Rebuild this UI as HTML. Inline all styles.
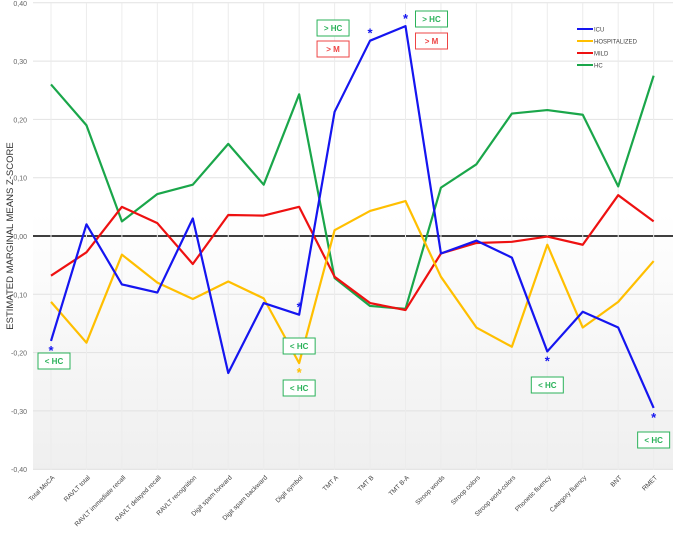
<!DOCTYPE html>
<html><head><meta charset="utf-8">
<style>
body{margin:0;background:#fff;font-family:"Liberation Sans",sans-serif;}
svg text{font-family:"Liberation Sans",sans-serif;}
</style></head><body>
<svg id="chart" width="676" height="542" xmlns="http://www.w3.org/2000/svg">
<defs><linearGradient id="bg" x1="0" y1="0" x2="0" y2="1"><stop offset="0" stop-color="#ffffff"/><stop offset="0.45" stop-color="#ffffff"/><stop offset="1" stop-color="#efefef"/></linearGradient></defs>
<rect x="33" y="3" width="640" height="467" fill="url(#bg)"/>
<g id="grid"></g><g id="series"></g><g id="labels"></g>
<text transform="translate(13,236) rotate(-90)" text-anchor="middle" font-size="9.5" fill="#333">ESTIMATED MARGINAL MEANS Z-SCORE</text>
</svg>
<script>
const categories=["Total MoCA","RAVLT total","RAVLT immediate recall","RAVLT delayed recall","RAVLT recognition","Digit spam forward","Digit spam backward","Digit symbol","TMT A","TMT B","TMT B-A","Stroop words","Stroop colors","Stroop word-colors","Phonetic fluency","Category fluency","BNT","RMET"];
const icu=[-0.18,0.02,-0.083,-0.097,0.03,-0.235,-0.115,-0.135,0.213,0.335,0.36,-0.03,-0.008,-0.037,-0.198,-0.13,-0.157,-0.295];
const hosp=[-0.113,-0.183,-0.032,-0.08,-0.108,-0.078,-0.107,-0.218,0.01,0.043,0.06,-0.07,-0.157,-0.19,-0.015,-0.157,-0.113,-0.043];
const mild=[-0.068,-0.028,0.05,0.022,-0.048,0.036,0.035,0.05,-0.07,-0.115,-0.127,-0.03,-0.012,-0.01,-0.001,-0.015,0.07,0.025];
const hc=[0.26,0.19,0.025,0.072,0.088,0.158,0.088,0.243,-0.072,-0.12,-0.125,0.083,0.123,0.21,0.216,0.208,0.085,0.275];
const yTicks=[0.4,0.3,0.2,0.1,0,-0.1,-0.2,-0.3,-0.4];
const NS="http://www.w3.org/2000/svg";
const X=i=>51+i*35.45;
const Y=v=>236-v*583;
function mk(p,t,a){const e=document.createElementNS(NS,t);for(const k in a)e.setAttribute(k,a[k]);p.appendChild(e);return e;}
const grid=document.getElementById('grid'),ser=document.getElementById('series'),lab=document.getElementById('labels');
yTicks.forEach(v=>{
 const l=mk(grid,'line',{x1:33,x2:673,y1:Y(v),y2:Y(v),stroke:v===0?'#000':'#e2e2e2','stroke-width':v===0?1.5:1});
 
 
 const t=mk(grid,'text',{x:27,y:Y(v)+3,'text-anchor':'end','font-size':7,fill:'#666'});
 t.textContent=v.toFixed(2).replace('.',',');
 
 
});
categories.forEach((c,i)=>{
 const l=mk(grid,'line',{x1:X(i),x2:X(i),y1:3,y2:470,stroke:'#ececec'});
 
 
 const t=mk(grid,'text',{transform:`translate(${X(i)+4},${478}) rotate(-45)`,'text-anchor':'end','font-size':6.5,fill:'#444'});
 t.textContent=c;
 
 
});
const S=[["hc",hc,"#1aa64a","HC"],["mild",mild,"#ee1111","MILD"],["hosp",hosp,"#ffbf00","HOSPITALIZED"],["icu",icu,"#1515f0","ICU"]];
S.forEach(s=>{
 const p=mk(ser,'polyline',{points:s[1].map((v,i)=>X(i)+','+Y(v)).join(' '),fill:'none',stroke:s[2],'stroke-width':2.2,'stroke-linejoin':'round'});
 
 
});
[["ICU","#1515f0",29],["HOSPITALIZED","#ffbf00",41],["MILD","#ee1111",53],["HC","#1aa64a",65]].forEach(l=>{
 const ln=mk(lab,'line',{x1:577,x2:593,y1:l[2],y2:l[2],stroke:l[1],'stroke-width':2});
 
 
 const t=mk(lab,'text',{x:594,y:l[2]+2.5,'font-size':6,fill:'#444'});
 t.textContent=l[0];
 
 
});
// asterisks: [category index, series, color, dy]
[[0,icu,"#1515f0",14],[7,icu,"#1515f0",-3],[7,hosp,"#ffbf00",14],[9,icu,"#1515f0",-3],[10,icu,"#1515f0",-3],[14,icu,"#1515f0",14],[17,icu,"#1515f0",14]].forEach(a=>{
 const t=mk(lab,'text',{x:X(a[0]),y:Y(a[1][a[0]])+a[3],'text-anchor':'middle','font-size':13,'font-weight':'bold',fill:a[2]});
 t.textContent='*';
 
 
});
[[0,361,"< HC","#2bb25a"],[7,346,"< HC","#2bb25a"],[7,388,"< HC","#2bb25a"],[9,28,"> HC","#2bb25a"],[9,49,"> M","#ee4444"],[10,19,"> HC","#2bb25a"],[10,41,"> M","#ee4444"],[14,385,"< HC","#2bb25a"],[17,440,"< HC","#2bb25a"]].forEach(b=>{
 const cx=b[0]===9?X(9)-37:b[0]===10?X(10)+26:b[0]===0?X(0)+3:X(b[0]);
 const r=mk(lab,'rect',{x:cx-16,y:b[1]-8,width:32,height:16,fill:'#fff',stroke:b[3],'stroke-width':1});
 
 
 const t=mk(lab,'text',{x:cx,y:b[1]+3,'text-anchor':'middle','font-size':8,'font-weight':'bold',fill:b[3]});
 t.textContent=b[2];
 
 
});
</script>
</body></html>
